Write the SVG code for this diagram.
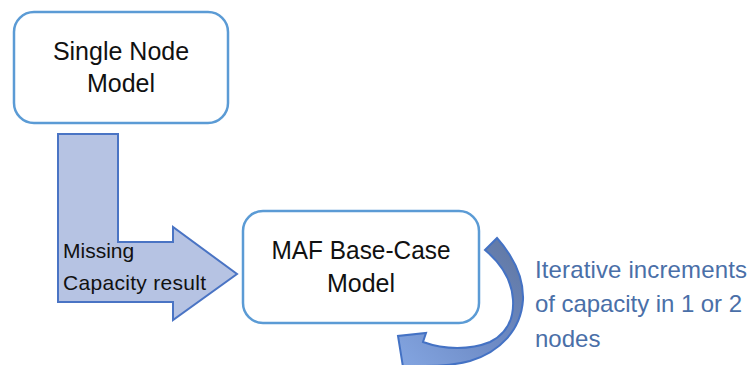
<svg xmlns="http://www.w3.org/2000/svg" width="752" height="365" viewBox="0 0 752 365">
  <style>
    .box { fill: #ffffff; stroke: #5b9bd5; stroke-width: 2.5; }
    .t { font-family: "Liberation Sans", Arial, sans-serif; fill: #111111; }
    .big { font-size: 25px; text-anchor: middle; }
    .lbl { font-size: 21px; }
    .side { font-family: "Liberation Sans", Arial, sans-serif; font-size: 24px; fill: #4a6fa8; }
  </style>
  <defs>
    <linearGradient id="cg" x1="1" y1="0" x2="0" y2="1">
      <stop offset="0" stop-color="#60769f"/>
      <stop offset="0.5" stop-color="#6d8ac4"/>
      <stop offset="1" stop-color="#84a6e2"/>
    </linearGradient>
  </defs>
  <rect width="752" height="365" fill="#ffffff"/>

  <g id="connectors">
    <g id="bent-arrow">
      <path d="M58,134 L118,134 L118,242 L173,242 L173,227 L237,274 L173,320 L173,302 L58,302 Z" fill="#b6c3e3" stroke="#4a74c4" stroke-width="2" stroke-linejoin="miter"/>
      <text class="t lbl" x="63" y="258">Missing</text>
      <text class="t lbl" x="63" y="290" textLength="143">Capacity result</text>
    </g>
    <g id="curved-arrow">
      <path d="M485,250 L497,238 C512,255 524,275 523,300 C521,330 500,352 470,361 C455,365 440,366 425,366 L403,367 L398,336 L426,333 L423,342 C445,350 470,350 490,342 C508,333 514,318 513,300 C512,282 503,265 485,250 Z" fill="url(#cg)" stroke="#4472c4" stroke-width="2" stroke-linejoin="miter"/>
    </g>
  </g>

  <g id="single-node">
    <rect class="box" x="14" y="12" width="214" height="111" rx="20" ry="20"/>
    <text class="t big" x="121" y="60">Single Node</text>
    <text class="t big" x="121" y="92">Model</text>
  </g>

  <g id="maf-base-case">
    <rect class="box" x="243" y="211" width="236" height="112" rx="20" ry="20"/>
    <text class="t big" x="361" y="259" textLength="179" lengthAdjust="spacingAndGlyphs">MAF Base-Case</text>
    <text class="t big" x="361" y="292">Model</text>
  </g>

  <g id="iterative-label">
    <text class="side" x="535" y="278" textLength="212">Iterative increments</text>
    <text class="side" x="535" y="312" textLength="207">of capacity in 1 or 2</text>
    <text class="side" x="535" y="347">nodes</text>
  </g>
</svg>
